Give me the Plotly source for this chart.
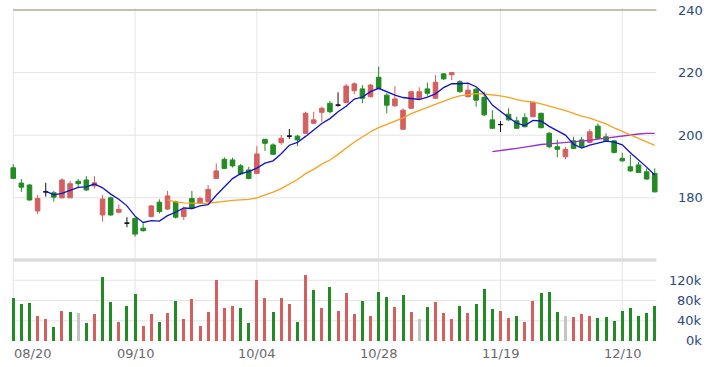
import plotly.graph_objects as go
import pandas as pd

# ---------------- data ----------------
tick_labels = ["08/20", "09/10", "10/04", "10/28", "11/19", "12/10"]
tick_index = [0, 15, 30, 45, 60, 75]

opens = [189.6, 184.7, 184.1, 175.8, 181.9, 181.6, 180.0, 180.0, 185.3, 185.7,
         183.8, 174.5, 180.0, 175.4, 171.9, 173.4, 170.3, 174.0, 178.6, 176.4,
         178.7, 174.0, 179.8, 178.2, 178.8, 186.2, 192.3, 192.1, 190.2, 188.9,
         187.8, 198.7, 196.9, 197.6, 199.7, 199.7, 200.6, 203.8, 207.3, 210.2,
         209.6, 210.4, 214.2, 214.8, 212.3, 218.5, 212.8, 209.4, 201.9, 208.6,
         211.8, 214.8, 211.8, 219.6, 219.3, 217.1, 212.3, 214.7, 212.1, 204.9,
         203.4, 206.7, 204.6, 205.6, 205.9, 207.0, 200.6, 196.3, 193.1, 198.2,
         198.5, 197.7, 202.9, 199.5, 198.2, 192.6, 189.9, 190.5, 188.3, 187.8]
highs = [190.7, 186.0, 184.3, 180.9, 184.8, 182.2, 186.2, 185.4, 186.0, 186.9,
         186.9, 180.9, 180.4, 177.9, 173.8, 173.8, 171.9, 177.7, 179.5, 182.2,
         179.1, 177.2, 182.2, 180.4, 184.1, 191.0, 192.9, 192.8, 190.8, 189.9,
         196.5, 198.8, 197.4, 200.1, 202.0, 200.1, 207.5, 207.5, 209.1, 210.9,
         213.7, 216.4, 216.9, 216.0, 216.4, 221.9, 213.4, 215.7, 208.6, 214.2,
         215.3, 216.8, 219.2, 219.8, 220.0, 217.6, 216.4, 215.0, 213.9, 208.0,
         204.5, 208.6, 205.9, 207.0, 210.7, 207.2, 201.1, 198.5, 196.3, 199.5,
         199.5, 201.9, 203.8, 200.6, 198.5, 194.4, 193.7, 191.5, 189.4, 189.4]
lows = [186.0, 181.9, 179.1, 174.8, 180.4, 178.8, 179.8, 179.9, 183.4, 182.2,
        183.0, 172.4, 174.3, 175.0, 170.6, 167.6, 169.2, 173.8, 175.0, 176.1,
        173.4, 172.9, 176.3, 178.0, 178.4, 186.0, 189.2, 189.7, 187.3, 185.9,
        187.6, 195.0, 193.7, 196.9, 198.8, 196.5, 200.4, 203.6, 204.3, 207.0,
        209.1, 210.2, 213.1, 210.2, 212.1, 214.7, 207.0, 209.1, 201.7, 208.3,
        211.5, 212.6, 211.6, 217.6, 217.6, 213.6, 212.1, 209.1, 206.2, 202.0,
        201.0, 204.6, 202.0, 202.5, 205.7, 202.2, 195.8, 192.9, 192.3, 195.6,
        196.1, 197.4, 198.7, 197.9, 194.2, 191.5, 188.3, 188.0, 185.7, 181.7]
closes = [186.2, 183.4, 179.3, 179.8, 181.9, 180.2, 185.7, 184.5, 184.5, 182.5,
          184.8, 179.6, 174.5, 176.3, 171.9, 168.4, 169.5, 177.4, 175.6, 180.6,
          173.8, 176.3, 176.6, 179.8, 182.7, 188.6, 189.4, 190.2, 187.6, 186.2,
          194.0, 197.4, 193.9, 199.0, 199.7, 198.5, 207.0, 204.9, 208.6, 207.5,
          209.6, 215.7, 216.4, 211.8, 216.0, 215.0, 209.6, 211.6, 208.0, 213.9,
          213.9, 213.4, 216.9, 218.0, 220.0, 213.9, 214.4, 211.2, 206.5, 202.2,
          203.4, 204.9, 202.2, 202.7, 210.5, 202.4, 196.3, 195.5, 195.5, 195.8,
          196.3, 201.1, 199.0, 198.2, 194.5, 191.8, 188.6, 188.1, 186.0, 181.9]
volumes_k = [85, 73, 75, 49, 43, 27, 59, 57, 55, 35,
             53, 127, 77, 38, 70, 93, 30, 53, 38, 55,
             80, 43, 83, 30, 57, 120, 65, 70, 65, 35,
             120, 85, 57, 85, 73, 38, 130, 100, 65, 107,
             59, 95, 53, 80, 49, 97, 87, 67, 90, 57,
             43, 67, 77, 55, 43, 70, 55, 73, 103, 63,
             60, 45, 49, 38, 80, 95, 97, 57, 49, 47,
             53, 50, 45, 47, 40, 60, 65, 50, 55, 70]
price_ticks = [180, 200, 220, 240]
volume_ticks_k = [0, 40, 80, 120]

# ---------------- style ----------------
UP = "#d45f5f"
DOWN = "#238b23"
FLAT = "#c4c4c4"
GRID = "#e4e4e4"
FONT = "DejaVu Sans"

n = len(closes)
idx = list(range(n))
df = pd.DataFrame({"i": idx, "o": opens, "h": highs, "l": lows, "c": closes})
ma5 = df["c"].rolling(5).mean()
ma20 = df["c"].rolling(20).mean()
ma60 = df["c"].rolling(60).mean()

fig = go.Figure()


def candle_group(mask, color, name):
    d = df[mask]
    fig.add_trace(go.Candlestick(
        x=d["i"], open=d["o"], high=d["h"], low=d["l"], close=d["c"],
        increasing=dict(line=dict(color=color, width=1), fillcolor=color),
        decreasing=dict(line=dict(color=color, width=1), fillcolor=color),
        whiskerwidth=0, showlegend=False, name=name, hoverinfo="skip",
        xaxis="x", yaxis="y"))


candle_group(df["c"] > df["o"], UP, "up")
candle_group(df["c"] < df["o"], DOWN, "down")
candle_group(df["c"] == df["o"], "#111111", "flat")

for ma, col in [(ma60, "#9a2fd0"), (ma20, "#f5a21e"), (ma5, "#1111cc")]:
    fig.add_trace(go.Scatter(x=idx, y=ma, mode="lines",
                             line=dict(color=col, width=1.3),
                             showlegend=False, hoverinfo="skip",
                             xaxis="x", yaxis="y"))

vcolors = []
for i in idx:
    if i == 0 or closes[i] < closes[i - 1]:
        vcolors.append(DOWN)
    elif closes[i] > closes[i - 1]:
        vcolors.append(UP)
    else:
        vcolors.append(FLAT)

fig.add_trace(go.Bar(x=idx, y=[v * 1000 for v in volumes_k],
                     marker=dict(color=vcolors, line=dict(width=0)),
                     width=0.37, showlegend=False, hoverinfo="skip",
                     xaxis="x2", yaxis="y2"))

# ---------------- grid lines ----------------
shapes = []
x_end = n - 1 + 0.2
for t in tick_index:
    shapes.append(dict(type="line", xref="x", yref="paper", x0=t, x1=t,
                       y0=0, y1=1, line=dict(color=GRID, width=1), layer="below"))
for p in price_ticks[:-1]:
    shapes.append(dict(type="line", xref="x", yref="y", x0=0, x1=x_end,
                       y0=p, y1=p, line=dict(color=GRID, width=1), layer="below"))
shapes.append(dict(type="line", xref="x", yref="y", x0=0, x1=x_end,
                   y0=price_ticks[-1], y1=price_ticks[-1],
                   line=dict(color="#b3aa8c", width=1.5), layer="below"))
for v in volume_ticks_k:
    shapes.append(dict(type="line", xref="x2", yref="y2", x0=0, x1=x_end,
                       y0=v * 1000, y1=v * 1000, line=dict(color=GRID, width=1),
                       layer="below"))
shapes.append(dict(type="line", xref="x2", yref="y2", x0=0, x1=x_end,
                   y0=160000, y1=160000, line=dict(color="#dcdcdc", width=3.5),
                   layer="below"))

# ---------------- tick labels ----------------
ann = []
for p in price_ticks:
    ann.append(dict(xref="paper", yref="y", x=1.0725, y=p, text=str(p),
                    showarrow=False, xanchor="right", yanchor="middle",
                    font=dict(family=FONT, size=13, color="#2b4a7c")))
for v in volume_ticks_k:
    ann.append(dict(xref="paper", yref="y2", x=1.071, y=v * 1000, text=f"{v}k",
                    showarrow=False, xanchor="right", yanchor="middle",
                    font=dict(family=FONT, size=13, color="#2b4a7c")))
for k, (t, lab) in enumerate(zip(tick_index, tick_labels)):
    ann.append(dict(xref="x", yref="paper", x=(t - 0.15) if k == 0 else t,
                    y=-0.0375, text=lab, showarrow=False,
                    xanchor="left" if k == 0 else "center", yanchor="middle",
                    font=dict(family=FONT, size=13, color="#6a6a6a")))

axis_common = dict(showgrid=False, zeroline=False, showticklabels=False,
                   showline=False, ticks="", fixedrange=True)
fig.update_layout(
    width=716, height=367,
    margin=dict(l=10, r=58, t=8, b=26),
    paper_bgcolor="white", plot_bgcolor="white",
    boxgap=0.25, boxgroupgap=0.25,
    showlegend=False,
    hovermode=False,
    xaxis=dict(domain=[0, 1], range=[-0.4, n - 1 + 0.4], anchor="y",
               rangeslider=dict(visible=False), **axis_common),
    xaxis2=dict(domain=[0, 1], range=[-0.4, n - 1 + 0.4], anchor="y2",
                matches="x", **axis_common),
    yaxis=dict(domain=[0.2553, 1], range=[161.41, 240.64], anchor="x",
               **axis_common),
    yaxis2=dict(domain=[0, 0.2492], range=[0, 164000], anchor="x2",
                **axis_common),
    shapes=shapes, annotations=ann,
    bargap=0,
)

# the page's default 8px body margin would shift the chart; remove it
fig.write_html("out.html",
               config={"displayModeBar": False, "staticPlot": True},
               post_script="document.body.style.margin='0';"
                           "document.body.style.overflow='hidden';")
